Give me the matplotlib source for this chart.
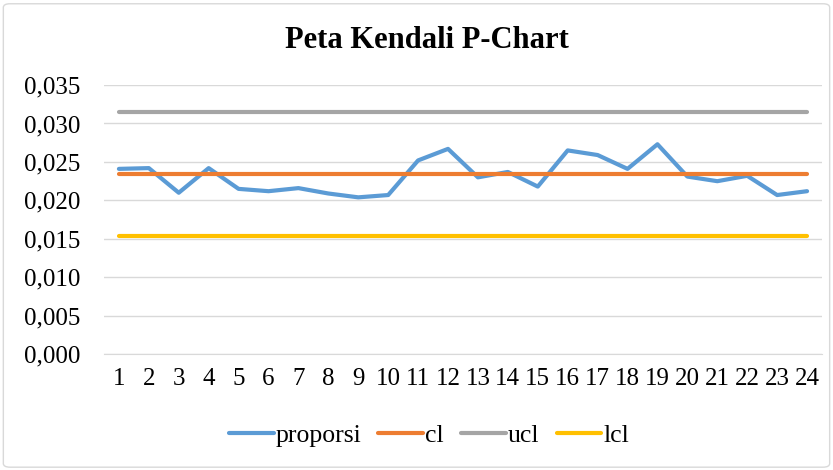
import matplotlib
matplotlib.use("Agg")
import matplotlib.pyplot as plt
from matplotlib.ticker import FuncFormatter, MultipleLocator
from matplotlib.patches import FancyBboxPatch

samples = list(range(1, 25))
proporsi = [0.0241, 0.0242, 0.0210, 0.0242, 0.0215, 0.0212, 0.0216, 0.0209,
            0.0204, 0.0207, 0.0252, 0.0267, 0.0230, 0.0237, 0.0218, 0.0265,
            0.0259, 0.0241, 0.0273, 0.0231, 0.0225, 0.0232, 0.0207, 0.0212]
cl_value = 0.02345
ucl_value = 0.03145
lcl_value = 0.0154
cl = [cl_value] * len(samples)
ucl = [ucl_value] * len(samples)
lcl = [lcl_value] * len(samples)

plt.rcParams['font.family'] = ['Liberation Serif', 'DejaVu Serif']

fig = plt.figure(figsize=(8.33, 4.70), dpi=100)
ax = fig.add_axes([0.1248, 0.2462, 0.862, 0.5729])

border = FancyBboxPatch((0.004, 0.006), 0.992, 0.986, boxstyle="round,pad=0,rounding_size=0.008",
                        transform=fig.transFigure, fill=False, edgecolor='#D9D9D9', linewidth=1.0)
fig.patches.append(border)

x = list(range(len(samples)))
ax.plot(x, proporsi, color='#5B9BD5', lw=3, label='proporsi', solid_capstyle='round', solid_joinstyle='round', zorder=3)
ax.plot(x, cl, color='#ED7D31', lw=3, label='cl', solid_capstyle='round', zorder=3)
ax.plot(x, ucl, color='#A5A5A5', lw=3, label='ucl', solid_capstyle='round', zorder=3)
ax.plot(x, lcl, color='#FFC000', lw=3, label='lcl', solid_capstyle='round', zorder=3)

ax.set_xlim(-0.5, len(samples) - 0.5)
ax.set_ylim(0, 0.035)
ax.yaxis.set_major_locator(MultipleLocator(0.005))
ax.yaxis.set_major_formatter(FuncFormatter(lambda v, p: f"{v:.3f}".replace('.', ',')))
ax.set_xticks(x)
ax.set_xticklabels([str(s) for s in samples])

ax.grid(axis='y', color='#D9D9D9', lw=1)
ax.set_axisbelow(True)
for s in ['left', 'right', 'top']:
    ax.spines[s].set_visible(False)
ax.spines['bottom'].set_color('#D9D9D9')
ax.tick_params(axis='both', length=0, labelsize=18, colors='#000000')
ax.tick_params(axis='y', pad=17)
ax.tick_params(axis='x', pad=9.8)

fig.text(0.513, 0.897, 'Peta Kendali P-Chart', ha='center', va='baseline', fontsize=22, fontweight='bold')

fig.legend(loc='center', bbox_to_anchor=(0.515, 0.074), ncol=4, frameon=False, fontsize=18.5,
           handlelength=1.75, columnspacing=0.66, handletextpad=0.08)

fig.savefig('out.png', dpi=100)
